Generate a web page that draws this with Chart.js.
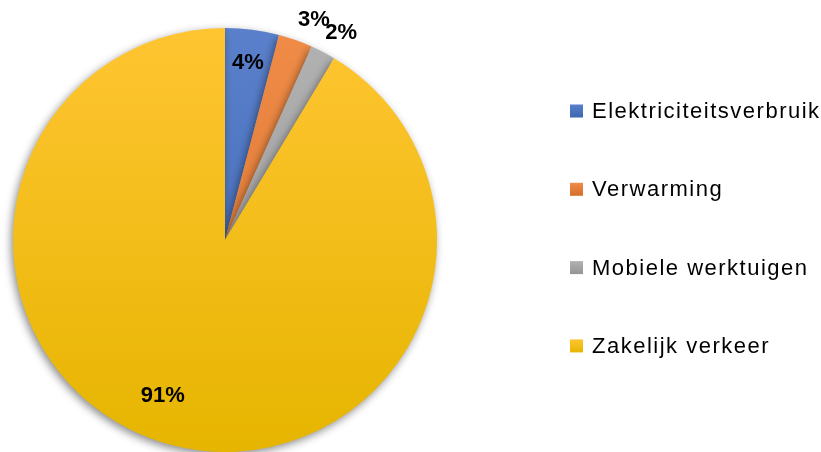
<!DOCTYPE html>
<html><head><meta charset="utf-8">
<script src="https://cdn.jsdelivr.net/npm/chart.js@4/dist/chart.umd.min.js"></script>
<style>html,body{margin:0;padding:0;background:#fff}#wrap{width:821px;height:452px;position:relative}</style>
</head><body><div id="wrap"><canvas id="c" width="821" height="452"></canvas></div>
<script>
const categories = ['Elektriciteitsverbruik', 'Verwarming', 'Mobiele werktuigen', 'Zakelijk verkeer'];
const shares = [4.1, 2.6, 1.9, 91.4];
const labelsText = ['4%', '3%', '2%', '91%'];
const baseColors = ['#4472C4', '#ED7D31', '#A5A5A5', '#FFC000'];
const topColors = ['#5A80CC', '#F08C48', '#B2B2B2', '#FFC532'];
const bottomColors = ['#3D66B0', '#D46F2B', '#949494', '#E6B500'];

function grad(ctx, i) {
  const ca = ctx.chart.chartArea;
  if (!ca) return baseColors[i];
  const g = ctx.chart.ctx.createLinearGradient(0, ca.top, 0, ca.bottom);
  g.addColorStop(0, topColors[i]);
  g.addColorStop(1, bottomColors[i]);
  return g;
}

const shadowPlugin = {
  id: 'shadow',
  beforeDatasetsDraw(chart) {
    const c = chart.ctx; c.save();
    c.shadowColor = 'rgba(0,0,0,0.45)'; c.shadowBlur = 8; c.shadowOffsetX = -2; c.shadowOffsetY = 3;
  },
  afterDatasetsDraw(chart) { chart.ctx.restore(); }
};

const labelPlugin = {
  id: 'pctLabels',
  afterDraw(chart) {
    const c = chart.ctx;
    const meta = chart.getDatasetMeta(0);
    c.save();
    c.font = 'bold 22px "Liberation Sans", Arial, sans-serif';
    c.fillStyle = '#000'; c.textAlign = 'center'; c.textBaseline = 'middle';
    meta.data.forEach((arc, i) => {
      const mid = (arc.startAngle + arc.endAngle) / 2;
      const outside = shares[i] < 3.5;
      const big = shares[i] > 50;
      let r = outside ? arc.outerRadius * 1.12 : arc.outerRadius * (big ? 0.79 : 0.84);
      let ang = mid;
      if (outside) ang = mid + (i === 2 ? 0.03 : 0.045);
      if (big) ang = mid + 0.11;
      const x = arc.x + Math.cos(ang) * r;
      const y = arc.y + Math.sin(ang) * r;
      c.fillText(labelsText[i], x, y);
    });
    c.restore();
  }
};

const legendPlugin = {
  id: 'sideLegend',
  afterDraw(chart) {
    const c = chart.ctx;
    c.save();
    c.font = '22px "Liberation Sans", Arial, sans-serif';
    c.letterSpacing = '1.5px';
    c.textBaseline = 'middle'; c.textAlign = 'left';
    const x0 = 570, y0 = 111, step = 78.3;
    chart.data.labels.forEach((lab, i) => {
      const y = y0 + i * step;
      const g = c.createLinearGradient(0, y - 6.5, 0, y + 6.5);
      g.addColorStop(0, topColors[i]); g.addColorStop(1, bottomColors[i]);
      c.fillStyle = g;
      c.fillRect(x0, y - 6.5, 13, 13);
      c.fillStyle = '#000';
      c.fillText(lab, x0 + 22, y + 1);
    });
    c.restore();
  }
};

new Chart(document.getElementById('c'), {
  type: 'pie',
  data: {
    labels: categories,
    datasets: [{
      data: shares,
      backgroundColor: (ctx) => grad(ctx, ctx.dataIndex),
      borderWidth: 0
    }]
  },
  options: {
    responsive: false,
    animation: false,
    layout: { padding: { left: 13, right: 384, top: 28, bottom: 0 } },
    plugins: { legend: { display: false }, tooltip: { enabled: false } }
  },
  plugins: [shadowPlugin, labelPlugin, legendPlugin]
});
</script>
</body></html>
